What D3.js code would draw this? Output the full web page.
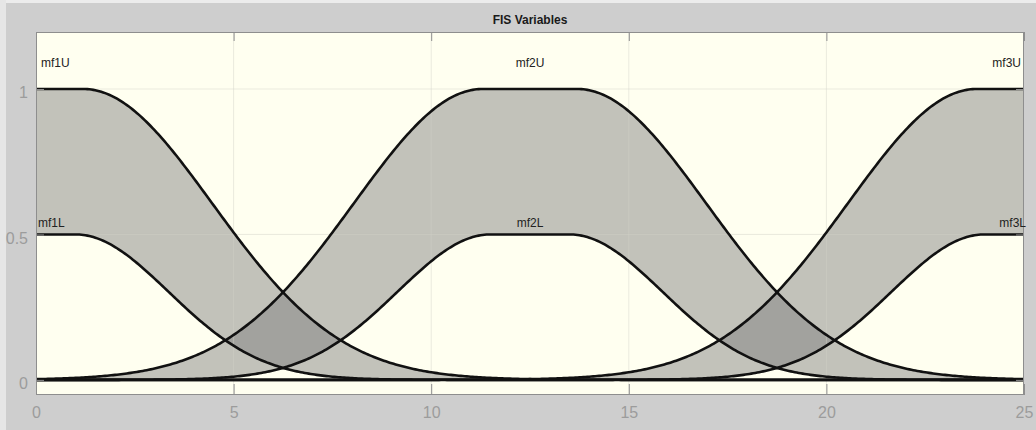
<!DOCTYPE html>
<html>
<head>
<meta charset="utf-8">
<script src="https://cdn.jsdelivr.net/npm/d3@7"></script>
<style>
  html, body { margin: 0; padding: 0; background: #cecece; }
  svg { display: block; }
  .tick-label { font-family: "Liberation Sans Narrow", "Arial Narrow", "Liberation Sans", Arial, sans-serif; font-size: 16px; fill: #9c9c9c; }
  .mf-label { font-family: "Liberation Sans", Arial, sans-serif; font-size: 12px; fill: #222; }
  .title { font-family: "Liberation Sans", Arial, sans-serif; font-size: 12px; font-weight: bold; fill: #1a1a1a; }
</style>
</head>
<body>
<svg id="chart" width="1036" height="430"></svg>
<script>
// Input variable range and axis ticks
const xRange = [0, 25];
const xTicks = [0, 5, 10, 15, 20, 25];
const yTicks = [0, 0.5, 1];

// Type-2 membership functions (gauss2mf: [sigma1, c1, sigma2, c2])
const mfNames = ["mf1", "mf2", "mf3"];
const upperParams = [
  [3.26, -1.2, 3.26, 1.2],
  [3.26, 11.3, 3.26, 13.7],
  [3.26, 23.8, 3.26, 26.2]
];
const lowerParams = [
  [2.35, -1.0, 2.35, 1.0],
  [2.35, 11.5, 2.35, 13.5],
  [2.35, 24.0, 2.35, 26.0]
];
const lowerScale = [0.5, 0.5, 0.5];
const labelAlign = ["start", "middle", "end"];

function gauss2mf(x, p) {
  const [s1, c1, s2, c2] = p;
  const left = x < c1 ? Math.exp(-((x - c1) ** 2) / (2 * s1 * s1)) : 1;
  const right = x > c2 ? Math.exp(-((x - c2) ** 2) / (2 * s2 * s2)) : 1;
  return left * right;
}

const svg = d3.select("#chart");
const W = 1036, H = 430;
const plot = { left: 36, right: 1024, top: 32, bottom: 395 };

const x = d3.scaleLinear().domain(xRange).range([plot.left, plot.right]);
const y = d3.scaleLinear().domain([-0.052, 1.196]).range([plot.bottom, plot.top]);

// panel background with lighter edge strips
svg.append("rect").attr("width", W).attr("height", H).attr("fill", "#cecece");
svg.append("rect").attr("width", W).attr("height", 3).attr("fill", "#ececec");
svg.append("rect").attr("width", 6).attr("height", H).attr("fill", "#e6e6e6");

svg.append("text").attr("class", "title")
  .attr("x", x(12.5)).attr("y", 24).attr("text-anchor", "middle")
  .text("FIS Variables");

// axes area
svg.append("defs").append("clipPath").attr("id", "clip")
  .append("rect")
  .attr("x", plot.left).attr("y", plot.top)
  .attr("width", plot.right - plot.left).attr("height", plot.bottom - plot.top);

svg.append("rect")
  .attr("x", plot.left).attr("y", plot.top)
  .attr("width", plot.right - plot.left).attr("height", plot.bottom - plot.top)
  .attr("fill", "#fffff0");

const g = svg.append("g").attr("clip-path", "url(#clip)");

// sample points across the input range
const xs = d3.range(xRange[0], xRange[1] + 0.0001, 0.05);

const upperCurves = upperParams.map(p => xs.map(v => [v, gauss2mf(v, p)]));
const lowerCurves = lowerParams.map((p, i) => xs.map(v => [v, lowerScale[i] * gauss2mf(v, p)]));

// footprint of uncertainty: band between lower and upper MF
const area = d3.area()
  .x(d => x(d[0]))
  .y0(d => y(d[1]))
  .y1(d => y(d[2]));

mfNames.forEach((name, i) => {
  const band = xs.map((v, k) => [v, lowerCurves[i][k][1], upperCurves[i][k][1]]);
  g.append("path")
    .datum(band)
    .attr("d", area)
    .attr("fill", "#808080")
    .attr("fill-opacity", 0.48);
});

// grid lines
g.selectAll(".vgrid").data(xTicks).join("line")
  .attr("x1", d => x(d)).attr("x2", d => x(d))
  .attr("y1", plot.top).attr("y2", plot.bottom)
  .attr("stroke", "#d0d0c8").attr("stroke-opacity", 0.45).attr("stroke-width", 1);
g.selectAll(".hgrid").data(yTicks).join("line")
  .attr("x1", plot.left).attr("x2", plot.right)
  .attr("y1", d => y(d)).attr("y2", d => y(d))
  .attr("stroke", "#d0d0c8").attr("stroke-opacity", 0.45).attr("stroke-width", 1);

// membership function curves
const line = d3.line().x(d => x(d[0])).y(d => y(d[1]));
[...upperCurves, ...lowerCurves].forEach(c => {
  g.append("path")
    .datum(c)
    .attr("d", line)
    .attr("fill", "none")
    .attr("stroke", "#111")
    .attr("stroke-width", 2.6)
    .attr("stroke-linejoin", "round");
});

// box and inner ticks
const axisColor = "#8e8e8e";
svg.append("rect")
  .attr("x", plot.left + 0.5).attr("y", plot.top + 0.5)
  .attr("width", plot.right - plot.left - 1).attr("height", plot.bottom - plot.top - 1)
  .attr("fill", "none").attr("stroke", axisColor).attr("stroke-width", 1);

const xAxisB = d3.axisBottom(x).tickValues(xTicks).tickSize(-11).tickPadding(8).tickFormat(d3.format("d"));
const xAxisT = d3.axisTop(x).tickValues(xTicks).tickSize(-9).tickFormat("");
const yAxisL = d3.axisLeft(y).tickValues(yTicks).tickSize(-8).tickPadding(8).tickFormat(d => d === 0.5 ? "0.5" : d3.format("d")(d));
const yAxisR = d3.axisRight(y).tickValues(yTicks).tickSize(-8).tickFormat("");

function styleAxis(sel) {
  sel.select(".domain").remove();
  sel.selectAll(".tick line").attr("stroke", axisColor);
  sel.selectAll(".tick text").attr("class", "tick-label").attr("fill", null);
}

svg.append("g").attr("transform", `translate(0,${plot.bottom})`).call(xAxisB).call(styleAxis)
  .selectAll(".tick text").attr("dy", "0.95em");
svg.append("g").attr("transform", `translate(0,${plot.top})`).call(xAxisT).call(styleAxis);
svg.append("g").attr("transform", `translate(${plot.left},0)`).call(yAxisL).call(styleAxis)
  .selectAll(".tick text").attr("dy", "0.55em");
svg.append("g").attr("transform", `translate(${plot.right},0)`).call(yAxisR).call(styleAxis);

// MF labels above each peak
mfNames.forEach((name, i) => {
  const anchor = labelAlign[i];
  const lx = anchor === "start" ? x(xRange[0]) + 5 : anchor === "end" ? x(xRange[1]) - 3 : x((upperParams[i][1] + upperParams[i][3]) / 2);
  svg.append("text").attr("class", "mf-label")
    .attr("x", lx).attr("y", y(1.089)).attr("dy", "0.35em")
    .attr("text-anchor", anchor).text(name + "U");
  const lx2 = anchor === "start" ? x(xRange[0]) + 2 : anchor === "end" ? x(xRange[1]) + 2 : x((lowerParams[i][1] + lowerParams[i][3]) / 2);
  svg.append("text").attr("class", "mf-label")
    .attr("x", lx2).attr("y", y(0.54)).attr("dy", "0.35em")
    .attr("text-anchor", anchor).text(name + "L");
});
</script>
</body>
</html>
